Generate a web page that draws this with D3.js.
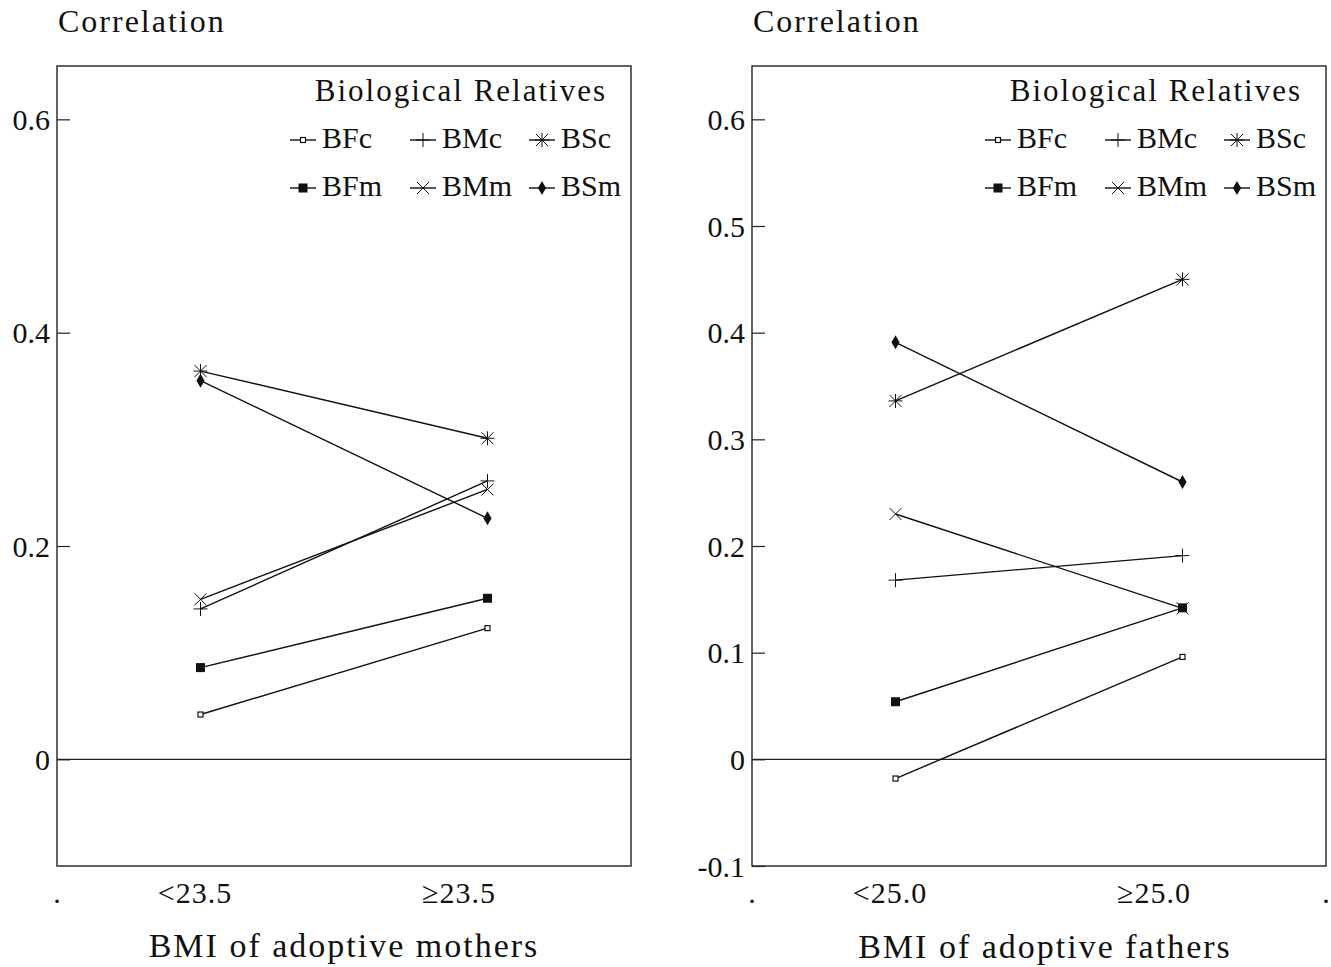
<!DOCTYPE html>
<html>
<head>
<meta charset="utf-8">
<script src="https://cdn.jsdelivr.net/npm/d3@7"></script>
<style>
  body { margin: 0; background: #fff; }
  svg { display: block; }
  text { font-family: "Liberation Serif", "Times New Roman", serif; fill: #111; }
</style>
</head>
<body>
<div class="chart"></div>
<script>
// series names, legend order (two rows of three)
const seriesNames = ["BFc", "BMc", "BSc", "BFm", "BMm", "BSm"];

// left panel: adoptive mothers
const mothersCats = ["<23.5", "\u226523.5"];
const mothersBFc = [0.042, 0.123];
const mothersBMc = [0.141, 0.261];
const mothersBSc = [0.364, 0.301];
const mothersBFm = [0.086, 0.151];
const mothersBMm = [0.150, 0.253];
const mothersBSm = [0.355, 0.226];
const mothersTicks = [0, 0.2, 0.4, 0.6];

// right panel: adoptive fathers
const fathersCats = ["<25.0", "\u226525.0"];
const fathersBFc = [-0.018, 0.096];
const fathersBMc = [0.168, 0.191];
const fathersBSc = [0.336, 0.450];
const fathersBFm = [0.054, 0.142];
const fathersBMm = [0.230, 0.1415];
const fathersBSm = [0.391, 0.260];
const fathersTicks = [-0.1, 0, 0.1, 0.2, 0.3, 0.4, 0.5, 0.6];

const svgWidth = 1331;
const svgHeight = 967;
const font = 30;

let svg = d3.select(".chart")
    .append("svg")
    .attr("width", svgWidth)
    .attr("height", svgHeight)

// marker paths, r = half size
const plusPath = r => `M${-r},0H${r}M0,${-r}V${r}`
const crossPath = r => `M${-r},${-r}L${r},${r}M${-r},${r}L${r},${-r}`

function drawMarker(g, name) {
    if (name == "BFc") {
        g.append("rect").attr("x", -2.5).attr("y", -2.5).attr("width", 5).attr("height", 5)
            .attr("fill", "#fff").attr("stroke", "#111").attr("stroke-width", 1.2)
    } else if (name == "BFm") {
        g.append("rect").attr("x", -4.5).attr("y", -4.5).attr("width", 9).attr("height", 9)
            .attr("fill", "#111")
    } else if (name == "BMc") {
        g.append("path").attr("d", plusPath(7)).attr("stroke", "#111").attr("stroke-width", 1)
    } else if (name == "BMm") {
        g.append("path").attr("d", crossPath(6)).attr("stroke", "#111").attr("stroke-width", 1)
    } else if (name == "BSc") {
        g.append("path").attr("d", plusPath(7) + crossPath(6)).attr("stroke", "#111").attr("stroke-width", 1)
    } else if (name == "BSm") {
        g.append("path").attr("d", d3.symbol(d3.symbolDiamond, 58)()).attr("fill", "#111")
    }
}

function drawPanel(opts) {
    const left = opts.left, right = opts.left + 574, top = 66, bottom = 866;

    let x = d3.scaleLinear().domain([0, 4]).range([left, right])
    let y = d3.scaleLinear().domain([-0.1, 0.65]).range([bottom, top])

    let g = svg.append("g")

    // frame
    g.append("rect")
        .attr("x", left).attr("y", top)
        .attr("width", right - left).attr("height", bottom - top)
        .attr("fill", "none").attr("stroke", "#222").attr("stroke-width", 1.4)

    // zero line
    g.append("line")
        .attr("x1", left).attr("x2", right)
        .attr("y1", y(0)).attr("y2", y(0))
        .attr("stroke", "#222").attr("stroke-width", 1.1)

    // y axis, ticks pointing inward
    let yAxis = d3.axisLeft(y)
        .tickValues(opts.ticks)
        .tickFormat(d => d == 0 ? "0" : d.toFixed(1))
        .tickSizeInner(-13)
        .tickSizeOuter(0)
        .tickPadding(7)

    let yAxisGroup = g.append("g")
        .attr("transform", `translate(${left}, 0)`)
        .call(yAxis)
    yAxisGroup.select(".domain").remove()
    yAxisGroup.selectAll(".tick line").attr("stroke", "#222").attr("stroke-width", 1.2)
    yAxisGroup.selectAll(".tick text")
        .attr("font-size", font)
        .attr("font-family", "Liberation Serif, serif")
        .attr("fill", "#111")
        .attr("dy", "0.34em")

    // x axis: end dots and the two category labels
    const xLabels = [".", opts.cats[0], opts.cats[1], opts.rightDot ? "." : ""];
    const xNudge = [0, -6, -29, 0];
    let xAxis = d3.axisBottom(x)
        .tickValues([0, 1, 3, 4])
        .tickFormat((d, i) => xLabels[i])
        .tickSize(0)
        .tickPadding(16)

    let xAxisGroup = g.append("g")
        .attr("transform", `translate(0, ${bottom})`)
        .call(xAxis)
    xAxisGroup.select(".domain").remove()
    xAxisGroup.selectAll(".tick text")
        .attr("font-size", font)
        .attr("font-family", "Liberation Serif, serif")
        .attr("fill", "#111")
        .attr("letter-spacing", 1)
        .attr("dx", (d, i) => xNudge[i])

    // series lines + markers
    opts.series.forEach((vals, k) => {
        const name = seriesNames[k];
        const pts = vals.map((v, i) => [x(1 + 2 * i), y(v)]);
        g.append("path")
            .attr("d", d3.line()(pts))
            .attr("fill", "none").attr("stroke", "#111").attr("stroke-width", 1.4)
        pts.forEach(p => {
            drawMarker(g.append("g").attr("transform", `translate(${p[0]}, ${p[1]})`), name)
        })
    })

    // legend
    g.append("text")
        .attr("x", right - 24).attr("y", 101)
        .attr("text-anchor", "end")
        .attr("font-size", 31)
        .attr("letter-spacing", 2)
        .text("Biological Relatives")

    const colX = [right - 328, right - 208, right - 89];
    const rowY = [140, 188];
    seriesNames.forEach((name, i) => {
        const cx = colX[i % 3], cy = rowY[Math.floor(i / 3)];
        g.append("line")
            .attr("x1", cx - 13).attr("x2", cx + 13)
            .attr("y1", cy).attr("y2", cy)
            .attr("stroke", "#111").attr("stroke-width", 1.4)
        drawMarker(g.append("g").attr("transform", `translate(${cx}, ${cy})`), name)
        g.append("text")
            .attr("x", cx + 19).attr("y", cy + 8)
            .attr("font-size", font)
            .text(name)
    })

    // titles
    g.append("text")
        .attr("x", left + 1).attr("y", 32)
        .attr("font-size", 32)
        .attr("letter-spacing", 2)
        .text("Correlation")

    g.append("text")
        .attr("x", opts.titleX).attr("y", opts.titleY)
        .attr("text-anchor", "middle")
        .attr("font-size", 34)
        .attr("letter-spacing", 2)
        .text(opts.xTitle)
}

drawPanel({
    left: 57,
    cats: mothersCats,
    ticks: mothersTicks,
    series: [mothersBFc, mothersBMc, mothersBSc, mothersBFm, mothersBMm, mothersBSm],
    rightDot: false,
    xTitle: "BMI of adoptive mothers",
    titleX: 344, titleY: 957
})

drawPanel({
    left: 752,
    cats: fathersCats,
    ticks: fathersTicks,
    series: [fathersBFc, fathersBMc, fathersBSc, fathersBFm, fathersBMm, fathersBSm],
    rightDot: true,
    xTitle: "BMI of adoptive fathers",
    titleX: 1045, titleY: 958
})
</script>
</body>
</html>
